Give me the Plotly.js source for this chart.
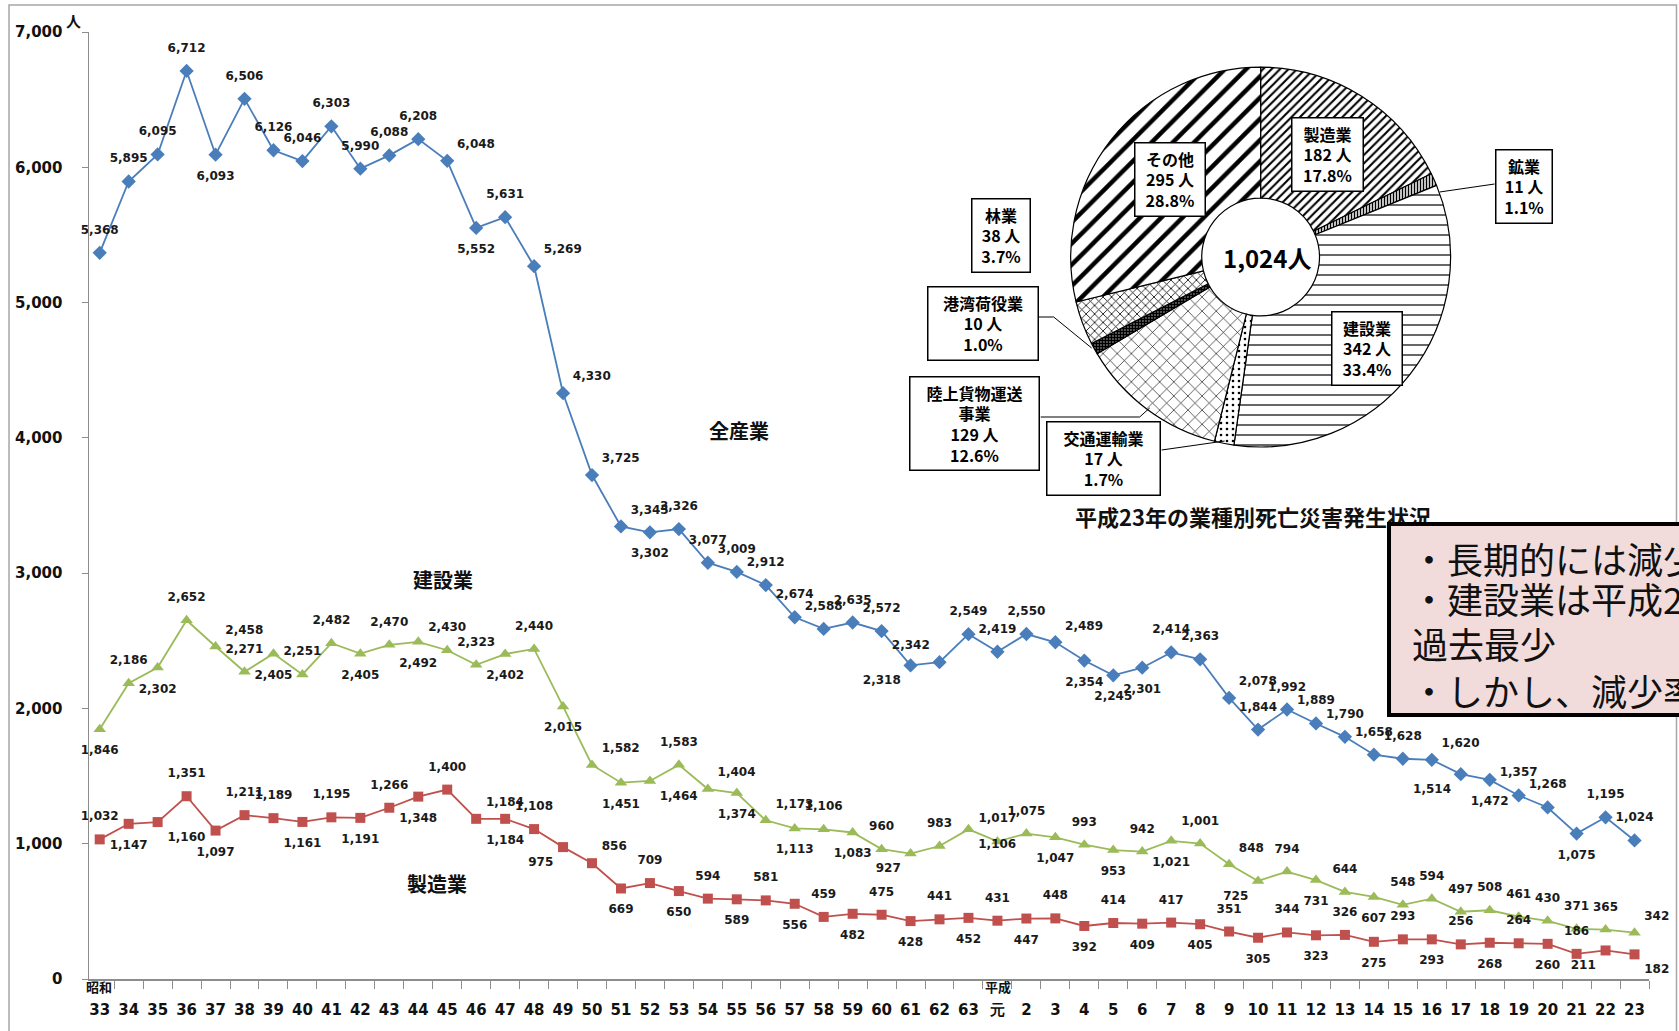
<!DOCTYPE html>
<html>
<head>
<meta charset="utf-8">
<script src="https://cdn.plot.ly/plotly-3.0.1.min.js"></script>
<style>
  html, body { margin: 0; padding: 0; background: #ffffff; overflow: hidden; }
  #chart { width: 1679px; height: 1031px; }
</style>
</head>
<body>
<div id="chart"></div>
<script>
// ---------------- data ----------------
const yearLabels = ["33","34","35","36","37","38","39","40","41","42","43","44","45","46","47","48","49","50","51","52","53","54","55","56","57","58","59","60","61","62","63","元","2","3","4","5","6","7","8","9","10","11","12","13","14","15","16","17","18","19","20","21","22","23"];

const allIndustry = [5368,5895,6095,6712,6093,6506,6126,6046,6303,5990,
                     6088,6208,6048,5552,5631,5269,4330,3725,3345,3302,
                     3326,3077,3009,2912,2674,2588,2635,2572,2318,2342,
                     2549,
                     2419,2550,2489,2354,2245,2301,2414,2363,2078,1844,
                     1992,1889,1790,1658,1628,1620,1514,1472,1357,1268,
                     1075,1195,1024];

const construction = [1846,2186,2302,2652,2458,2271,2405,2251,2482,2405,
                      2470,2492,2430,2323,2402,2440,2015,1582,1451,1464,
                      1583,1404,1374,1173,1113,1106,1083,960,927,983,
                      1106,
                      1017,1075,1047,993,953,942,1021,1001,848,725,
                      794,731,644,607,548,594,497,508,461,430,
                      371,365,342];

const manufacturing = [1032,1147,1160,1351,1097,1211,1189,1161,1195,1191,
                       1266,1348,1400,1184,1184,1108,975,856,669,709,
                       650,594,589,581,556,459,482,475,428,441,
                       452,
                       431,447,448,392,414,409,417,405,351,305,
                       344,323,326,275,293,293,256,268,264,260,
                       186,211,182];

const seriesNames = ["全産業", "建設業", "製造業"];

const pieLabels = ["製造業","鉱業","建設業","交通運輸業","陸上貨物運送事業","港湾荷役業","林業","その他"];
const pieValues = [182, 11, 342, 17, 129, 10, 38, 295];
const piePercents = ["17.8%","1.1%","33.4%","1.7%","12.6%","1.0%","3.7%","28.8%"];
const pieTotal = "1,024人";
const pieCaption = "平成23年の業種別死亡災害発生状況";

const noteLines = ["・長期的には減少", "・建設業は平成2", "過去最少", "・しかし、減少率"];

// ---------------- label placement (styles) ----------------
const posMap = {t:"top center", b:"bottom center", tr:"top right", tl:"top left", br:"bottom right", bl:"bottom left"};
const bluePos = ("t t t t b t t t t t " +
                 "t t tr b t tr tr tr tr b " +
                 "t t t t t t t t bl tl " +
                 "t " +
                 "t t tr b b b t t tr t " +
                 "t t t t t tr bl b t t " +
                 "b t t").trim().split(/\s+/);
const greenPos = ("b t b t tr t b t t b " +
                  "t b t t b t b tr b br " +
                  "t tr b tr b t b t bl t " +
                  "br " +
                  "t t b t b t b t tr bl " +
                  "t b t b t t t t t t " +
                  "t t tr").trim().split(/\s+/);
const redPos = ("t b br t b t t b t b " +
                "t b t tr b t bl tr b t " +
                "b t b t b t b t b t " +
                "b " +
                "t b t b t b t b t b " +
                "t b t b t b t b t b " +
                "t bl br").trim().split(/\s+/);

// ---------------- geometry helpers ----------------
const W = 1679, H = 1031;
const L = 89, R = 1649.5, T = 32, B = 979;
const px = x => (x - L) / (R - L);
const py = y => (B - y) / (B - T);

const NUM = "DejaVu Sans, Verdana, sans-serif";
const JP = "Noto Sans CJK JP, Noto Sans, sans-serif";
const labelFont = {family: NUM, size: 12, color: "#1a1a1a", weight: "bold"};
const fmt = v => v.toLocaleString("en-US");

function lineTrace(name, y, color, symbol, size) {
  return {
    type: "scatter", mode: "lines+markers", name: name,
    x: yearLabels, y: y,
    line: {color: color, width: 1.8},
    marker: {color: color, symbol: symbol, size: size},
    hoverinfo: "skip", xaxis: "x", yaxis: "y"
  };
}
// value labels: an invisible marker of the given size sets how far the label sits from its point
function labelTrace(name, y, codes, corner, gap) {
  return {
    type: "scatter", mode: "markers+text", name: name + " labels",
    x: yearLabels, y: y,
    text: y.map((v, i) => ((codes[i].length === 2) === corner) ? fmt(v) : ""),
    marker: {color: "rgba(0,0,0,0)", size: gap},
    textposition: codes.map(k => posMap[k]),
    textfont: labelFont, cliponaxis: false, hoverinfo: "skip",
    xaxis: "x", yaxis: "y"
  };
}

const traces = [
  lineTrace(seriesNames[2], manufacturing, "#C0504D", "square", 10),
  lineTrace(seriesNames[1], construction, "#9BBB59", "triangle-up", 11),
  lineTrace(seriesNames[0], allIndustry, "#4A7EBB", "diamond", 11),
  labelTrace(seriesNames[2], manufacturing, redPos, false, 24),
  labelTrace(seriesNames[2], manufacturing, redPos, true, 14),
  labelTrace(seriesNames[1], construction, greenPos, false, 24),
  labelTrace(seriesNames[1], construction, greenPos, true, 14),
  labelTrace(seriesNames[0], allIndustry, bluePos, false, 24),
  labelTrace(seriesNames[0], allIndustry, bluePos, true, 14),
  {
    type: "pie", labels: pieLabels, values: pieValues, sort: false,
    direction: "clockwise", rotation: 0, hole: 0.31,
    textinfo: "none", hoverinfo: "skip", showlegend: false,
    domain: {x: [px(1071), px(1451)], y: [py(447), py(67)]},
    marker: {
      colors: pieLabels.map(() => "#ffffff"),
      line: {color: "#000000", width: 1.2},
      pattern: {
        shape: ["/", "|", "-", ".", "x", ".", "x", "/"],
        size: [6, 3, 10, 6, 10, 3, 6, 15],
        solidity: [0.35, 0.5, 0.12, 0.15, 0.12, 0.8, 0.25, 0.3],
        fgcolor: "#000000", bgcolor: "#ffffff"
      }
    }
  }
];

// ---------------- annotations ----------------
const ann = [];
function note(x, y, text, font, extra) {
  const a = Object.assign({xref: "paper", yref: "paper", x: px(x), y: py(y), text: text,
    showarrow: false, xanchor: "center", yanchor: "middle", font: font}, extra || {});
  ann.push(a);
}
// y-axis unit
note(73, 21, "人", {family: JP, size: 15, color: "#111", weight: "bold"});
// era labels
note(84, 987, "昭和", {family: JP, size: 13, color: "#111", weight: "bold"}, {xanchor: "left"});
note(998, 987, "平成", {family: JP, size: 13, color: "#111", weight: "bold"});
// series names
const seriesPos = [[739, 431], [443, 579], [437, 883]];
seriesNames.forEach((s, i) => note(seriesPos[i][0], seriesPos[i][1], s,
  {family: JP, size: 20, color: "#111", weight: "bold"}));

// pie label boxes
const boxCenters = [[1328,155],[1524,187],[1367,348],[1104,458],[975,423],[983,323],[1001,236],[1170,180]];
const boxWidths = [64, 49, 63, 106, 122, 103, 51, 63];
pieLabels.forEach((lab, i) => {
  const name = lab === "陸上貨物運送事業" ? "陸上貨物運送<br>事業" : lab;
  note(boxCenters[i][0], boxCenters[i][1], name + "<br>" + pieValues[i] + " 人<br>" + piePercents[i],
    {family: JP, size: 16, color: "#000", weight: "bold"},
    {width: boxWidths[i], align: "center", bgcolor: "#ffffff", bordercolor: "#000000",
     borderwidth: 1.5, borderpad: 3});
});
note(1267, 257, pieTotal, {family: JP, size: 24, color: "#000", weight: "bold"});
note(1253, 516, pieCaption, {family: JP, size: 22, color: "#111", weight: "bold"});

// note box (cut off at the right edge)
note(1387, 522, " ", {family: JP, size: 12},
  {xanchor: "left", yanchor: "top", width: 330, height: 187, borderpad: 0,
   bgcolor: "#F2DCDB", bordercolor: "#000000", borderwidth: 4});
const noteY = [558, 598, 643, 690];
const noteX = [1409, 1409, 1410, 1409];
noteLines.forEach((t, i) => note(noteX[i], noteY[i], t,
  {family: JP, size: 36, color: "#111"}, {xanchor: "left"}));

// ---------------- shapes ----------------
const P = (x, y) => px(x) + " " + py(y);
const shapes = [
  {type: "rect", xref: "paper", yref: "paper", x0: px(9), x1: px(1677), y0: py(5), y1: py(1045),
   line: {color: "#A6A6A6", width: 1.5}, fillcolor: "rgba(0,0,0,0)", layer: "below"},
  {type: "path", xref: "paper", yref: "paper", path: "M " + P(1495,184) + " L " + P(1440,192), line: {color: "#000", width: 1}},
  {type: "path", xref: "paper", yref: "paper", path: "M " + P(1039,317) + " L " + P(1054,317) + " L " + P(1092,348), line: {color: "#000", width: 1}},
  {type: "path", xref: "paper", yref: "paper", path: "M " + P(1041,417) + " L " + P(1140,417) + " L " + P(1150,408), line: {color: "#000", width: 1}},
  {type: "path", xref: "paper", yref: "paper", path: "M " + P(1162,450) + " L " + P(1225,441), line: {color: "#000", width: 1}}
];

const layout = {
  width: W, height: H,
  margin: {l: L, r: W - R, t: T, b: H - B, pad: 0},
  paper_bgcolor: "#ffffff", plot_bgcolor: "rgba(0,0,0,0)",
  showlegend: false,
  xaxis: {
    type: "category", categoryorder: "array", categoryarray: yearLabels,
    range: [-0.37, 53.5], tickmode: "linear", tick0: 0, dtick: 1, tickangle: 0,
    tickson: "boundaries", ticks: "outside", ticklen: 8, tickcolor: "#8C8C8C", tickwidth: 1,
    showline: true, linecolor: "#8C8C8C", linewidth: 1.5, showgrid: false, zeroline: false,
    ticklabelstandoff: 16,
    tickfont: {family: NUM, size: 15, color: "#111", weight: "bold"}
  },
  yaxis: {
    range: [0, 7000], tickmode: "linear", tick0: 0, dtick: 1000, tickformat: ",d",
    ticks: "outside", ticklen: 6, tickcolor: "#8C8C8C", tickwidth: 1,
    showline: true, linecolor: "#8C8C8C", linewidth: 1.5, showgrid: false, zeroline: false,
    ticklabelstandoff: 16,
    tickfont: {family: NUM, size: 15, color: "#111", weight: "bold"}
  },
  annotations: ann,
  shapes: shapes
};

Plotly.newPlot("chart", traces, layout, {staticPlot: true, displayModeBar: false});
</script>
</body>
</html>
